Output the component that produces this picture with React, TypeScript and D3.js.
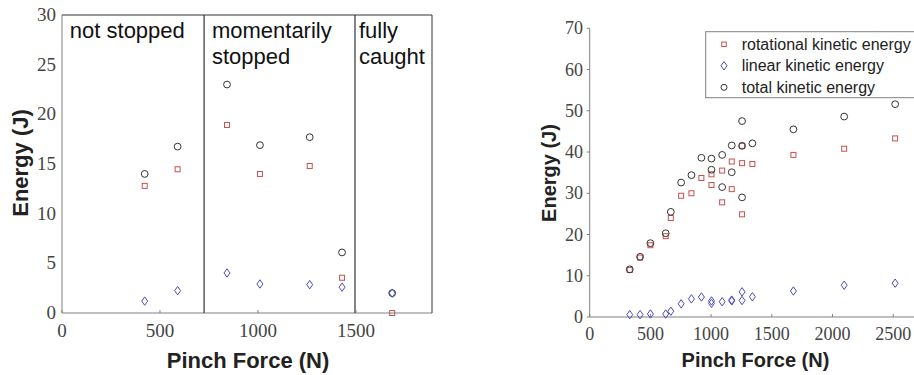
import React from "react";
import * as d3 from "d3";

// Left chart data
const leftForce = [422, 590, 842, 1010, 1264, 1429, 1685];
const leftTotal = [14.0, 16.75, 23.0, 16.9, 17.7, 6.1, 2.0];
const leftRot = [12.8, 14.47, 18.93, 14.0, 14.8, 3.55, 0];
const leftLin = [1.2, 2.25, 4.03, 2.92, 2.85, 2.6, 2.0];
const leftXTicks = [0, 500, 1000, 1500];
const leftYTicks = [0, 5, 10, 15, 20, 25, 30];
const dividers = [725, 1495];
const regionLabels = [
  { x: 40, lines: ["not stopped"] },
  { x: 765, lines: ["momentarily", "stopped"] },
  { x: 1515, lines: ["fully", "caught"] },
];

// Right chart data
const rightForceTot = [330, 415, 500, 626, 668, 753, 838, 920, 1003, 1003, 1091, 1091, 1170, 1170, 1255, 1255, 1255, 1340, 1678, 2096, 2516];
const rightTotal = [11.56, 14.6, 17.9, 20.3, 25.5, 32.6, 34.4, 38.6, 38.4, 35.7, 39.3, 31.5, 41.6, 35.1, 47.5, 41.5, 29.0, 42.1, 45.5, 48.6, 51.6];
const rightRot = [11.4, 14.4, 17.4, 19.6, 24.0, 29.4, 30.0, 33.7, 34.6, 32.0, 35.5, 27.8, 37.7, 31.0, 41.5, 37.3, 24.9, 37.1, 39.3, 40.8, 43.3];
const rightForceLin = [330, 415, 500, 626, 668, 753, 838, 920, 1003, 1003, 1091, 1170, 1170, 1255, 1255, 1340, 1678, 2096, 2516];
const rightLin = [0.57, 0.57, 0.73, 0.73, 1.4, 3.2, 4.4, 4.85, 3.9, 3.3, 3.7, 3.9, 4.1, 6.1, 4.0, 4.9, 6.3, 7.7, 8.2];
const rightXTicks = [0, 500, 1000, 1500, 2000, 2500];
const rightYTicks = [0, 10, 20, 30, 40, 50, 60, 70];
const legendLabels = ["rotational kinetic energy", "linear kinetic energy", "total kinetic energy"];

const RED = "#c8504f";
const BLUE = "#4b4bc4";
const DARK = "#333";
const AXIS = "#808080";
const SERIF = "'Liberation Serif', 'DejaVu Serif', serif";
const SANS = "'Liberation Sans', Arial, sans-serif";

const Square = ({ x, y, s = 5 }: { x: number; y: number; s?: number }) => (
  <rect x={x - s / 2} y={y - s / 2} width={s} height={s} fill="none" stroke={RED} strokeWidth={1} />
);
const Diamond = ({ x, y }: { x: number; y: number }) => (
  <path d={`M${x},${y - 4.2} L${x + 3},${y} L${x},${y + 4.2} L${x - 3},${y} Z`} fill="none" stroke={BLUE} strokeWidth={1} />
);
const Circle = ({ x, y }: { x: number; y: number }) => (
  <circle cx={x} cy={y} r={3.4} fill="none" stroke={DARK} strokeWidth={1} />
);

export default function App() {
  const lx = d3.scaleLinear().domain([0, 1888]).range([62, 432]);
  const ly = d3.scaleLinear().domain([0, 30]).range([313, 15]);
  const rx = d3.scaleLinear().domain([0, 2700]).range([589.7, 917.5]);
  const ry = d3.scaleLinear().domain([0, 70]).range([317, 28.3]);

  return (
    <svg width={914} height={375} style={{ position: "absolute", left: 0, top: 0, background: "#fff" }}>
      <rect width={914} height={375} fill="#fff" />
      {/* LEFT CHART */}
      <g>
        <line x1={lx(0)} x2={lx(0)} y1={ly(0)} y2={ly(30)} stroke={AXIS} />
        <line x1={lx(0)} x2={lx(1888)} y1={ly(0)} y2={ly(0)} stroke={AXIS} />
        <line x1={lx(0)} x2={lx(1888)} y1={ly(30)} y2={ly(30)} stroke={DARK} />
        <line x1={lx(1888)} x2={lx(1888)} y1={ly(0)} y2={ly(30)} stroke={DARK} />
        {dividers.map((d) => (
          <line key={d} x1={lx(d)} x2={lx(d)} y1={ly(0)} y2={ly(30)} stroke={DARK} strokeWidth={1.2} />
        ))}
        {leftXTicks.map((t) => (
          <g key={t}>
            <line x1={lx(t)} x2={lx(t)} y1={ly(0)} y2={ly(0) - 3} stroke={AXIS} />
            <text x={lx(t)} y={ly(0) + 24} textAnchor="middle" fontFamily={SERIF} fontSize={19} fill="#444">{t}</text>
          </g>
        ))}
        {leftYTicks.map((t) => (
          <text key={t} x={56} y={ly(t) + 6} textAnchor="end" fontFamily={SERIF} fontSize={19} fill="#444">{t}</text>
        ))}
        {regionLabels.map((r) =>
          r.lines.map((ln, i) => (
            <text key={r.x + ln} x={lx(r.x)} y={38 + i * 25.5} fontFamily={SANS} fontSize={22} fill="#111">{ln}</text>
          ))
        )}
        {leftForce.map((f, i) => <Square key={"ls" + i} x={lx(f)} y={ly(leftRot[i])} />)}
        {leftForce.map((f, i) => <Circle key={"lc" + i} x={lx(f)} y={ly(leftTotal[i])} />)}
        {leftForce.map((f, i) => <Diamond key={"ld" + i} x={lx(f)} y={ly(leftLin[i])} />)}
        <text x={248} y={368} textAnchor="middle" fontFamily={SANS} fontWeight="bold" fontSize={22} fill="#222">Pinch Force (N)</text>
        <text transform={`translate(28,163) rotate(-90)`} textAnchor="middle" fontFamily={SANS} fontWeight="bold" fontSize={22} fill="#222">Energy (J)</text>
      </g>

      {/* RIGHT CHART */}
      <g>
        <line x1={rx(0)} x2={rx(0)} y1={ry(0)} y2={ry(70)} stroke={AXIS} />
        <line x1={rx(0)} x2={rx(2700)} y1={ry(0)} y2={ry(0)} stroke={AXIS} />
        {rightXTicks.map((t) => (
          <g key={t}>
            <line x1={rx(t)} x2={rx(t)} y1={ry(0)} y2={ry(0) - 3} stroke={AXIS} />
            <text x={rx(t)} y={ry(0) + 23} textAnchor="middle" fontFamily={SERIF} fontSize={18} fill="#444">{t}</text>
          </g>
        ))}
        {rightYTicks.map((t) => (
          <g key={t}>
            <line x1={rx(0) - 3} x2={rx(0)} y1={ry(t)} y2={ry(t)} stroke={AXIS} />
            <text x={583} y={ry(t) + 6} textAnchor="end" fontFamily={SERIF} fontSize={18} fill="#444">{t}</text>
          </g>
        ))}
        {rightForceTot.map((f, i) => <Square key={"rs" + i} x={rx(f)} y={ry(rightRot[i])} />)}
        {rightForceTot.map((f, i) => <Circle key={"rc" + i} x={rx(f)} y={ry(rightTotal[i])} />)}
        {rightForceLin.map((f, i) => <Diamond key={"rd" + i} x={rx(f)} y={ry(rightLin[i])} />)}
        {/* legend */}
        <rect x={705.7} y={31.7} width={230} height={66} fill="#fff" stroke={AXIS} />
        {legendLabels.map((l, i) => {
          const cy = 44.3 + i * 21.5;
          return (
            <g key={l}>
              {i === 0 && <Square x={724} y={cy} s={4.5} />}
              {i === 1 && <Diamond x={724} y={cy} />}
              {i === 2 && <circle cx={724} cy={cy} r={3} fill="none" stroke={DARK} />}
              <text x={741.7} y={cy + 5.5} fontFamily={SANS} fontSize={16} fill="#222">{l}</text>
            </g>
          );
        })}
        <text x={755.5} y={367} textAnchor="middle" fontFamily={SANS} fontWeight="bold" fontSize={20} fill="#222">Pinch Force (N)</text>
        <text transform={`translate(556,173) rotate(-90)`} textAnchor="middle" fontFamily={SANS} fontWeight="bold" fontSize={20} fill="#222">Energy (J)</text>
      </g>
    </svg>
  );
}
